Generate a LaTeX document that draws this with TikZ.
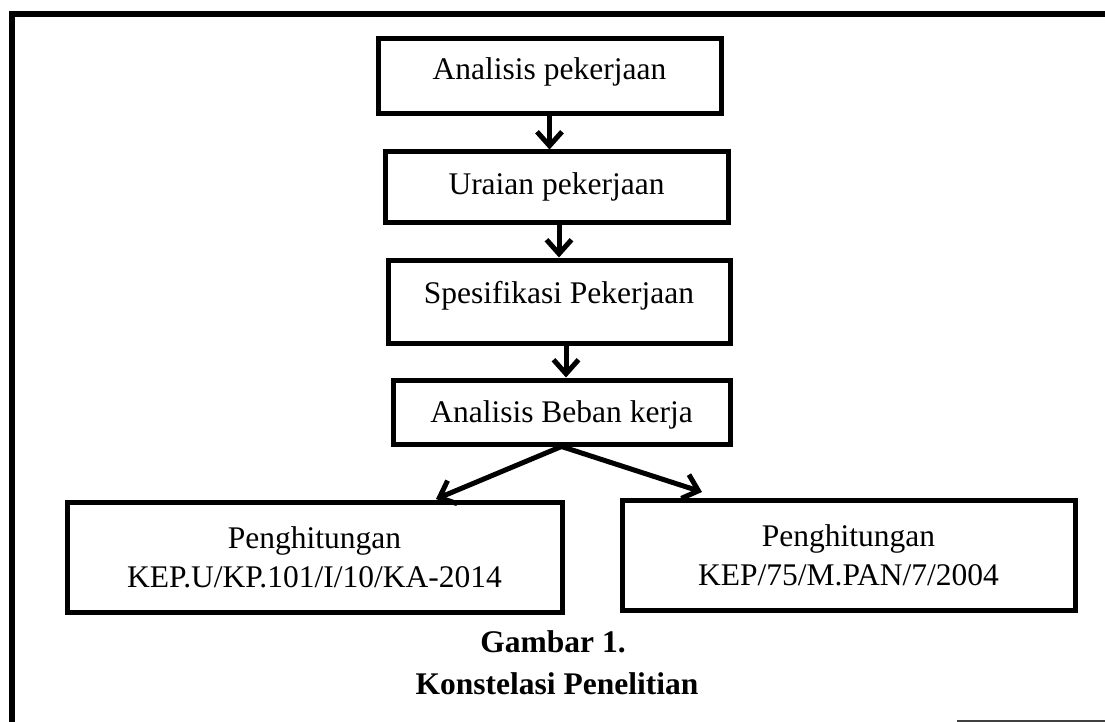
\documentclass[tikz,border=0pt]{standalone}
\usepackage{fontspec}
\setmainfont{Liberation Serif}
\usetikzlibrary{arrows.meta,calc}
\begin{document}
\begin{tikzpicture}[x=1pt,y=-1pt,
  box/.style={draw, line width=5pt, inner sep=0pt, font=\fontsize{31.5}{39}\selectfont},
  twoline/.style={box, align=center},
  arr/.style={line width=5pt, -{Straight Barb[length=14pt,width=25pt]}},
  captext/.style={font=\fontsize{31.5}{39}\selectfont\bfseries, inner sep=0pt}]
\useasboundingbox (0,0) rectangle (1105,722);
% outer frame
\draw[line width=6pt] (11.5,722) -- (11.5,14) -- (1105,14);
\draw[line width=2pt, black!75] (957,721) -- (1105,721);
% boxes
\node[box, minimum width=343pt, minimum height=75pt, text height=21pt, text depth=15pt] (b1) at (549.5,76.5) {Analisis pekerjaan};
\node[box, minimum width=343pt, minimum height=70pt, text height=21pt, text depth=7pt] (b2) at (556.5,187) {Uraian pekerjaan};
\node[box, minimum width=342pt, minimum height=83pt, text height=21pt, text depth=18pt] (b3) at (559,301.5) {Spesifikasi Pekerjaan};
\node[box, minimum width=337pt, minimum height=64pt, text height=21pt, text depth=1pt] (b4) at (561.5,412) {Analisis Beban kerja};
\node[twoline, minimum width=495pt, minimum height=110pt] (b5) at (314.5,557) {Penghitungan\\KEP.U/KP.101/I/10/KA-2014};
\node[twoline, minimum width=453pt, minimum height=110pt] (b6) at (848.5,555) {Penghitungan\\KEP/75/M.PAN/7/2004};
% arrows
\draw[arr] (b1.south) -- (b1.south |- b2.north);
\draw[arr] (b3.north |- b2.south) -- (b3.north);
\draw[arr] ([xshift=4.5pt]b4.north |- b3.south) -- ([xshift=4.5pt]b4.north);
\coordinate (tl) at (436,499);
\coordinate (tr) at (702,492);
\draw[arr] (b4.south) -- (tl);
\draw[arr] (b4.south) -- (tr);
% caption
\node[captext] (g1) at (553,642) {Gambar 1.};
\node[captext] (g2) at (557,684) {Konstelasi Penelitian};
\end{tikzpicture}
\end{document}
